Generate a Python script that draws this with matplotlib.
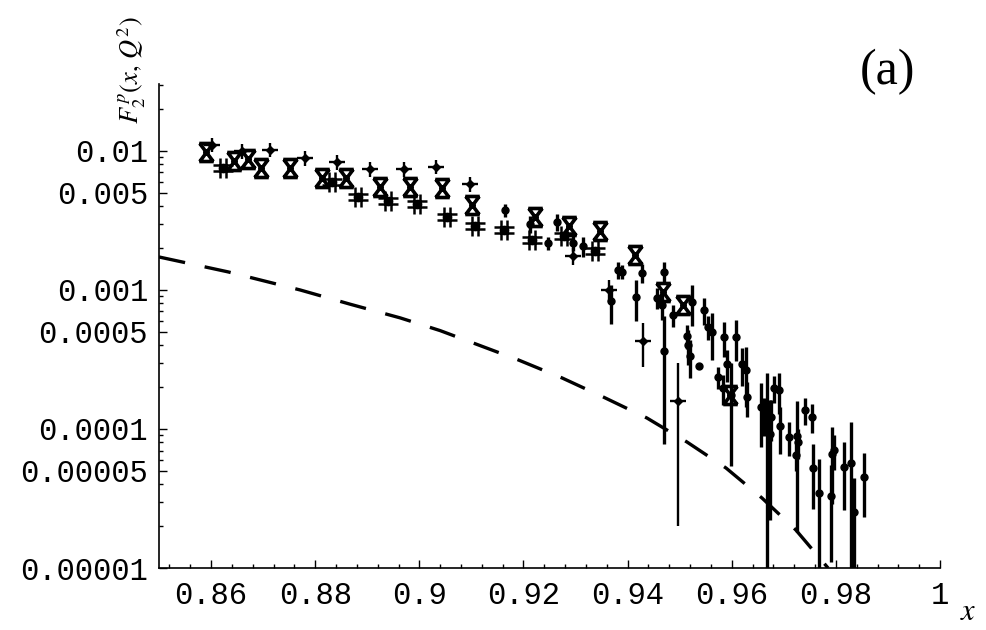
import matplotlib
matplotlib.use("Agg")
import matplotlib.pyplot as plt
from matplotlib.path import Path

plt.rcParams["mathtext.fontset"] = "stix"

# ---------------- data ----------------
# "X" symbols
xsym_x = [0.8590, 0.8644, 0.8671, 0.8696, 0.8752, 0.8813, 0.8859, 0.8924, 0.8982,
          0.9044, 0.9101, 0.9222, 0.9287, 0.9347, 0.9414, 0.9468, 0.9506, 0.9597]
xsym_y = [0.00984, 0.00847, 0.00876, 0.00755, 0.00755, 0.00639, 0.00639, 0.00551, 0.00551,
          0.00542, 0.00409, 0.00335, 0.00289, 0.00266, 0.00179, 0.000967, 0.000780, 0.000176]

# points with horizontal and vertical error bars
cross_x = [0.8602, 0.8659, 0.8713, 0.8780, 0.8842, 0.8905, 0.8971, 0.9032, 0.9097,
           0.9295, 0.9364, 0.9430, 0.9497]
cross_y = [0.01105, 0.0100, 0.01017, 0.00891, 0.00833, 0.00742, 0.00742, 0.00767, 0.00579,
           0.00176, 0.00100, 0.000430, 0.000159]
cross_dy = [0.0013, 0.0012, 0.0012, 0.0011, 0.0010, 0.0009, 0.0009, 0.0009, 0.0007,
            0.00024, 0.00018, 0.000149, 0.000139]
cross_dx = [0.0015] * len(cross_x)

# "#" symbols
hash_x = [0.8623, 0.8832, 0.8882, 0.8940, 0.8996, 0.9053, 0.9107, 0.9163, 0.9216, 0.9278, 0.9337]
hash_y = [0.00755, 0.00598, 0.00467, 0.00437, 0.00416, 0.00335, 0.00289, 0.00270, 0.00229,
          0.00245, 0.00191]

# points with vertical error bars only
dot_x = [0.9165, 0.9213, 0.9247, 0.9264, 0.9295, 0.9314, 0.9382, 0.9389, 0.9368, 0.9428,
         0.9416, 0.9470, 0.9456, 0.9466, 0.9470, 0.9487, 0.9524, 0.9514, 0.9516, 0.9520,
         0.9537, 0.9547, 0.9554, 0.9562, 0.9574, 0.9583, 0.9585, 0.9591, 0.9599, 0.9608,
         0.9620, 0.9627, 0.9629, 0.9656, 0.9662, 0.9668, 0.9675, 0.9673, 0.9681, 0.9691,
         0.9693, 0.9710, 0.9723, 0.9725, 0.9727, 0.9741, 0.9754, 0.9756, 0.9768, 0.9791,
         0.9793, 0.9796, 0.9816, 0.9829, 0.9835, 0.9854]
dot_y = [0.00376, 0.00298, 0.00218, 0.00308, 0.00218, 0.00207, 0.00139, 0.00135, 0.000833, 0.00133,
         0.000891, 0.00135, 0.000876, 0.000780, 0.000364, 0.000661, 0.000820, 0.000467, 0.000402, 0.000335,
         0.000284, 0.000718, 0.000542, 0.000499, 0.000237, 0.000197, 0.000459, 0.000294, 0.000176, 0.000459,
         0.000294, 0.000266, 0.000170, 0.000144, 0.000128, 0.000128, 0.000122, 0.0000920, 0.000197, 0.000191,
         0.000105, 0.0000876, 0.0000650, 0.0000891, 0.0000806, 0.000137, 0.000122, 0.0000524, 0.0000346, 0.0000330,
         0.0000661, 0.0000706, 0.0000533, 0.0000569, 0.0000253, 0.0000452]
dot_dy = [0.00040, 0.00042, 0.00023, 0.00044, 0.00027, 0.00034, 0.00020, 0.00016, 0.00026, 0.00021,
          0.00029, 0.00024, 0.00015, 0.00017, 0.000286, 0.00012, 0.00027, 0.000093, 0.000114, 0.000102,
          0.00001, 0.000158, 0.000108, 0.000184, 0.000042, 0.000048, 0.00013, 0.000076, 0.000122, 0.000149,
          0.000089, 0.000123, 0.000048, 0.00007, 0.000039, 0.000125, 0.00004, 0.00007, 0.000044, 0.000062,
          0.000039, 0.000024, 0.000015, 0.000071, 0.00002, 0.00003, 0.000029, 0.000026, 0.000026, 0.000022,
          0.000037, 0.00002, 0.000027, 0.000055, 0.000019, 0.000022]

# dashed curve
curve_x = [0.85, 0.8633, 0.8771, 0.8867, 0.8963, 0.9040, 0.9103, 0.9190, 0.9274, 0.9353,
           0.9437, 0.9514, 0.9589, 0.9658, 0.9723, 0.9785]
curve_y = [1.727e-3, 1.348e-3, 1.0e-3, 7.9e-4, 6.3e-4, 5.1e-4, 4.16e-4, 3.14e-4, 2.33e-4, 1.70e-4,
           1.20e-4, 8.06e-5, 5.24e-5, 3.19e-5, 1.88e-5, 1.0e-5]

# axis ticks
xtick_vals = [0.86, 0.88, 0.90, 0.92, 0.94, 0.96, 0.98, 1.00]
xtick_labels = ["0.86", "0.88", "0.9", "0.92", "0.94", "0.96", "0.98", "1"]
ytick_vals = [1e-5, 5e-5, 1e-4, 5e-4, 1e-3, 5e-3, 1e-2]
ytick_labels = ["0.00001", "0.00005", "0.0001", "0.0005", "0.001", "0.005", "0.01"]

# ---------------- markers ----------------
M, L = Path.MOVETO, Path.LINETO
x_marker = Path([(-0.8, 1), (0.8, 1), (-0.8, -1), (0.8, -1),
                 (-0.75, 1), (0.75, -1), (0.75, 1), (-0.75, -1)],
                [M, L, M, L, M, L, M, L])
hash_marker = Path([(-0.3, -1), (-0.3, 1), (0.3, -1), (0.3, 1),
                    (-1, -0.3), (1, -0.3), (-1, 0.3), (1, 0.3)],
                   [M, L, M, L, M, L, M, L])

# ---------------- figure ----------------
fig = plt.figure(figsize=(9.86, 6.30), dpi=100)
ax = fig.add_axes([159 / 986, 1 - 568 / 630, (940 - 159) / 986, (568 - 84) / 630])
ax.set_yscale("log")
ax.set_xlim(0.85, 1.0)
ax.set_ylim(1e-5, 0.0303)

# theory curve
ax.plot(curve_x, curve_y, color="black", lw=2.4, dashes=(8, 6), dash_capstyle="butt", zorder=2)

# data
ax.errorbar(dot_x, dot_y, yerr=dot_dy, fmt="o", ms=5, color="black", elinewidth=2.4,
            capsize=0, zorder=3)
ax.errorbar(cross_x, cross_y, xerr=cross_dx, yerr=cross_dy, fmt="D", ms=4, color="black",
            elinewidth=1.7, capsize=0, zorder=3)
ax.plot(hash_x, hash_y, linestyle="none", marker=hash_marker, ms=15, mfc="none", mec="black",
        mew=1.8, zorder=4)
ax.plot(hash_x, hash_y, linestyle="none", marker="o", ms=6, color="black", zorder=4)
ax.plot(xsym_x, xsym_y, linestyle="none", marker=x_marker, ms=13, mfc="none", mec="black",
        mew=2.6, zorder=4)
ax.plot(xsym_x, xsym_y, linestyle="none", marker="o", ms=4, color="black", zorder=4)

# axes styling
for side in ("top", "right"):
    ax.spines[side].set_visible(False)
for side in ("left", "bottom"):
    ax.spines[side].set_linewidth(1.2)

ax.set_xticks(xtick_vals)
ax.set_xticklabels(xtick_labels)
ax.xaxis.set_minor_locator(matplotlib.ticker.MultipleLocator(0.004))
ax.set_yticks(ytick_vals)
ax.set_yticklabels(ytick_labels)
minor_y = [k * 10.0 ** n for n in range(-5, -1) for k in (2, 3, 4, 6, 7, 8, 9)]
minor_y = [v for v in minor_y if v <= 0.0303]
ax.yaxis.set_minor_locator(matplotlib.ticker.FixedLocator(minor_y))
ax.yaxis.set_minor_formatter(matplotlib.ticker.NullFormatter())

ax.tick_params(which="both", direction="in", width=1.0, colors="black")
ax.tick_params(which="major", length=6)
ax.tick_params(which="minor", length=3)
ax.tick_params(axis="x", which="major", pad=9)
ax.tick_params(axis="y", which="major", pad=8)
for lab in ax.get_xticklabels() + ax.get_yticklabels():
    lab.set_fontfamily("Liberation Mono")
    lab.set_fontsize(22)

# labels
fig.text(132 / 986, 1 - 124 / 630, r"$F_2^{\,p}(x,\,Q^2)$", rotation=90, ha="center",
         va="bottom", fontsize=19)
fig.text(968 / 986, 1 - 612 / 630, r"$x$", ha="center", va="center", fontsize=22)
fig.text(887 / 986, 1 - 72 / 630, "(a)", ha="center", va="center", fontsize=36,
         fontfamily="Liberation Serif")

fig.savefig("out.png", dpi=100)
